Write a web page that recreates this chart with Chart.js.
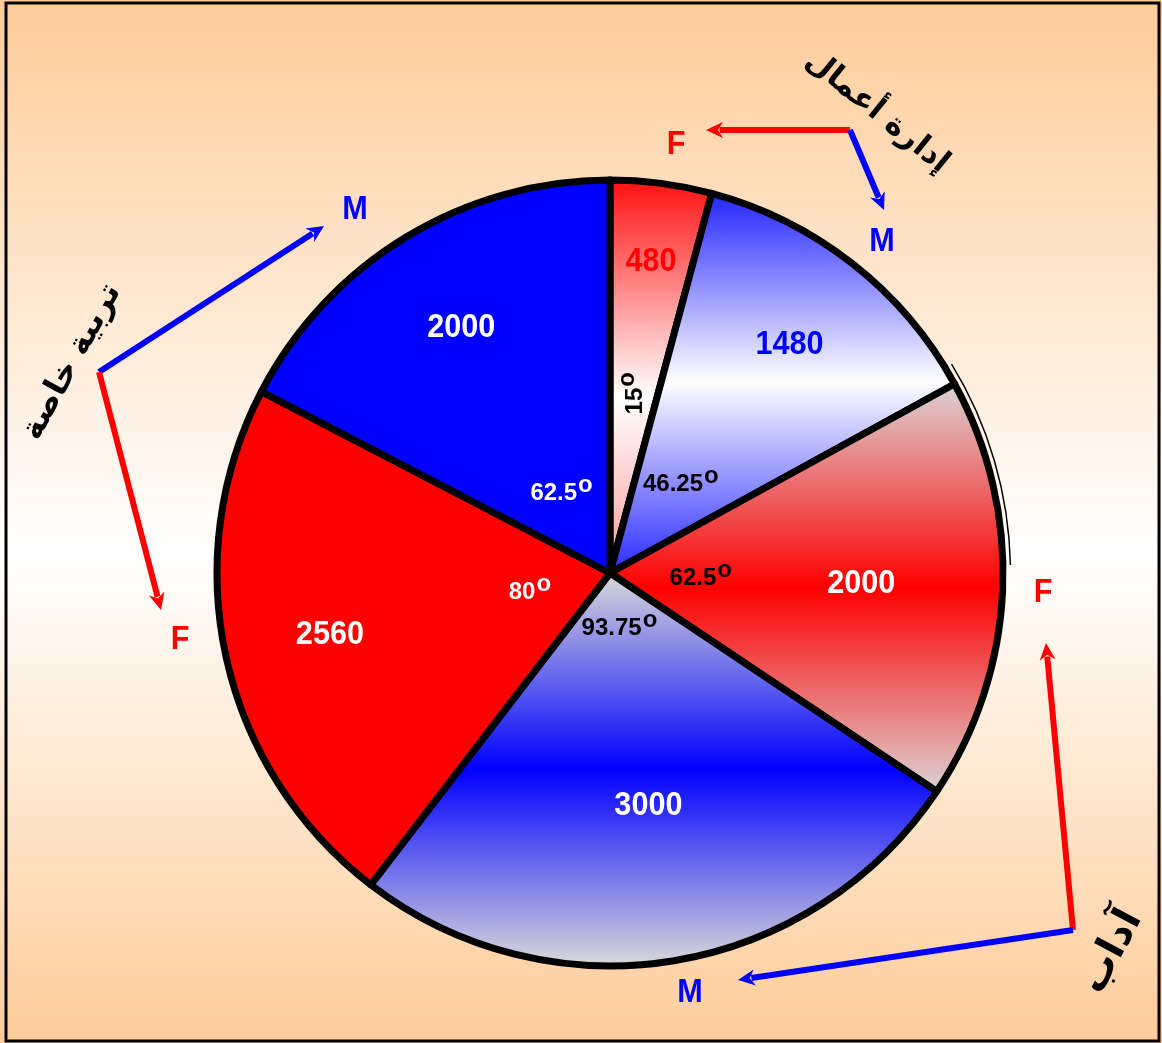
<!DOCTYPE html>
<html>
<head>
<meta charset="utf-8">
<script src="https://cdn.jsdelivr.net/npm/chart.js@4"></script>
<style>
html, body { margin: 0; padding: 0; background: #fff; }
canvas { display: block; }
</style>
</head>
<body>
<canvas id="Chart" width="1162" height="1043"></canvas>
<script>
// Slices, clockwise from 12 o'clock
var categories = ["إدارة أعمال F", "إدارة أعمال M", "آداب F", "آداب M", "تربية خاصة F", "تربية خاصة M"];
var students = [480, 1480, 2000, 3000, 2560, 2000];

// Groups (Arabic names) and their F / M labels
var groupNames = ["إدارة أعمال", "آداب", "تربية خاصة"];
var sexLabels = ["F", "M"];

// Label look
var valueColors = ["#ff0000", "#0000ff", "#ffffff", "#ffffff", "#ffffff", "#ffffff"];
var angleColors = ["#000000", "#000000", "#000000", "#000000", "#ffffff", "#ffffff"];
var valueRadius = [0.80, 0.74, 0.64, 0.60, 0.73, 0.73];
var angleRadius = [0.46, 0.29, 0.23, 0.14, 0.21, 0.24];

var R = 393;
var total = students.reduce(function(a, b) { return a + b; }, 0);

// ----------------------------------- Fills -------------------------------------------
function sliceFill(c) {
  var a = c.chart.chartArea;
  if (!a) return "#ccc";
  var ctx = c.chart.ctx;
  var cy = (a.top + a.bottom) / 2;
  var g;
  switch (c.dataIndex) {
    case 0:
      g = ctx.createLinearGradient(0, cy - R, 0, cy);
      g.addColorStop(0, "#ff1010");
      g.addColorStop(0.55, "#ffffff");
      g.addColorStop(1, "#ff9a9a");
      return g;
    case 1:
      g = ctx.createLinearGradient(0, cy - R + 10, 0, cy);
      g.addColorStop(0, "#2020ff");
      g.addColorStop(0.5, "#ffffff");
      g.addColorStop(1, "#2a2aff");
      return g;
    case 2:
      g = ctx.createLinearGradient(0, cy - 195, 0, cy + 225);
      g.addColorStop(0, "#dadada");
      g.addColorStop(0.5, "#ff0000");
      g.addColorStop(1, "#dadada");
      return g;
    case 3:
      g = ctx.createLinearGradient(0, cy, 0, cy + R);
      g.addColorStop(0, "#dadada");
      g.addColorStop(0.5, "#0000ff");
      g.addColorStop(1, "#dadada");
      return g;
    case 4:
      return "#ff0000";
    default:
      return "#0000ff";
  }
}

// ----------------------------------- Helpers -------------------------------------------
function bigText(ctx, text, x, y, color, rot) {
  ctx.save();
  ctx.translate(x, y);
  if (rot) ctx.rotate(rot);
  ctx.scale(0.9, 1);
  ctx.font = "bold 34px 'Liberation Sans', Arial, sans-serif";
  ctx.fillStyle = color;
  ctx.textAlign = "center";
  ctx.textBaseline = "middle";
  ctx.fillText(text, 0, 0);
  ctx.restore();
}

function degreeText(ctx, text, x, y, color, rot) {
  ctx.save();
  ctx.translate(x, y);
  if (rot) ctx.rotate(rot);
  ctx.font = "bold 24px 'Liberation Sans', Arial, sans-serif";
  var w1 = ctx.measureText(text).width;
  var w2 = ctx.measureText("o").width;
  var x0 = -(w1 + w2) / 2;
  ctx.fillStyle = color;
  ctx.textBaseline = "alphabetic";
  ctx.textAlign = "left";
  ctx.fillText(text, x0, 8);
  ctx.fillText("o", x0 + w1 + 1, 0);
  ctx.restore();
}

function arrow(ctx, x1, y1, x2, y2, color) {
  var ang = Math.atan2(y2 - y1, x2 - x1);
  var hl = 17, hw = 8;
  ctx.save();
  ctx.strokeStyle = color;
  ctx.fillStyle = color;
  ctx.lineWidth = 6;
  ctx.beginPath();
  ctx.moveTo(x1, y1);
  ctx.lineTo(x2 - Math.cos(ang) * hl * 0.8, y2 - Math.sin(ang) * hl * 0.8);
  ctx.stroke();
  ctx.beginPath();
  ctx.moveTo(x2, y2);
  ctx.lineTo(x2 - Math.cos(ang) * hl - Math.sin(ang) * hw, y2 - Math.sin(ang) * hl + Math.cos(ang) * hw);
  ctx.lineTo(x2 - Math.cos(ang) * hl * 0.7, y2 - Math.sin(ang) * hl * 0.7);
  ctx.lineTo(x2 - Math.cos(ang) * hl + Math.sin(ang) * hw, y2 - Math.sin(ang) * hl - Math.cos(ang) * hw);
  ctx.closePath();
  ctx.fill();
  ctx.restore();
}

function arabic(ctx, text, x, y, rot, size) {
  ctx.save();
  ctx.translate(x, y);
  ctx.rotate(rot);
  ctx.font = "bold " + size + "px 'DejaVu Sans', sans-serif";
  ctx.fillStyle = "#000";
  ctx.textAlign = "center";
  ctx.textBaseline = "middle";
  ctx.fillText(text, 0, 0);
  ctx.restore();
}

// ----------------------------------- Plugins -------------------------------------------
var backdrop = {
  id: "backdrop",
  beforeDraw: function(chart) {
    var ctx = chart.ctx, w = chart.width, h = chart.height;
    var g = ctx.createLinearGradient(0, 0, 0, h);
    g.addColorStop(0, "#ffcc99");
    g.addColorStop(0.53, "#ffffff");
    g.addColorStop(1, "#ffcc99");
    ctx.save();
    ctx.fillStyle = g;
    ctx.fillRect(0, 0, w, h);
    ctx.strokeStyle = "#000";
    ctx.lineWidth = 3;
    ctx.strokeRect(6, 3, 1153, 1038);
    ctx.restore();
  }
};

var labels = {
  id: "labels",
  afterDatasetsDraw: function(chart) {
    var ctx = chart.ctx;
    var arcs = chart.getDatasetMeta(0).data;
    var cx = arcs[0].x, cy = arcs[0].y;

    // thin shadow ring on the right side
    ctx.save();
    ctx.strokeStyle = "#000";
    ctx.lineWidth = 1.5;
    ctx.beginPath();
    ctx.arc(cx + 1, cy, R + 6.5, -0.55, -0.02);
    ctx.stroke();
    ctx.restore();

    arcs.forEach(function(arc, i) {
      var mid = (arc.startAngle + arc.endAngle) / 2;
      var rv = valueRadius[i] * R, ra = angleRadius[i] * R;
      bigText(ctx, String(students[i]), cx + Math.cos(mid) * rv, cy + Math.sin(mid) * rv, valueColors[i]);
      var deg = Math.round(students[i] / total * 360 * 100) / 100;
      degreeText(ctx, String(deg), cx + Math.cos(mid) * ra, cy + Math.sin(mid) * ra, angleColors[i], i === 0 ? -Math.PI / 2 : 0);
    });
  },
  afterDraw: function(chart) {
    var ctx = chart.ctx;
    var red = "#ff0000", blue = "#0000ff";
    // إدارة أعمال
    arrow(ctx, 850, 130, 706, 130, red);
    arrow(ctx, 850, 130, 884, 210, blue);
    bigText(ctx, sexLabels[0], 676, 145, red);
    bigText(ctx, sexLabels[1], 882, 242, blue);
    arabic(ctx, groupNames[0], 877, 112, 0.68, 31);
    // آداب
    arrow(ctx, 1073, 930, 1046, 643, red);
    arrow(ctx, 1073, 930, 738, 980, blue);
    bigText(ctx, sexLabels[0], 1043, 593, red);
    bigText(ctx, sexLabels[1], 690, 993, blue);
    arabic(ctx, groupNames[1], 1112, 952, -1.08, 40);
    // تربية خاصة
    arrow(ctx, 99, 372, 324, 226, blue);
    arrow(ctx, 99, 372, 161, 610, red);
    bigText(ctx, sexLabels[1], 355, 210, blue);
    bigText(ctx, sexLabels[0], 180, 640, red);
    arabic(ctx, groupNames[2], 72, 362, -1.07, 32);
  }
};

// ----------------------------------- Chart.js -------------------------------------------
var chart = document.getElementById("Chart");
var myChart = new Chart(chart, {
  type: "pie",
  data: {
    labels: categories,
    datasets: [{
      data: students,
      backgroundColor: sliceFill,
      borderColor: "#000000",
      borderWidth: 7,
      borderJoinStyle: "round"
    }]
  },
  options: {
    responsive: false,
    animation: false,
    radius: R,
    layout: { padding: { left: 200, right: 142, top: 160, bottom: 57 } },
    plugins: {
      legend: { display: false },
      tooltip: { enabled: false }
    }
  },
  plugins: [backdrop, labels]
});
</script>
</body>
</html>
